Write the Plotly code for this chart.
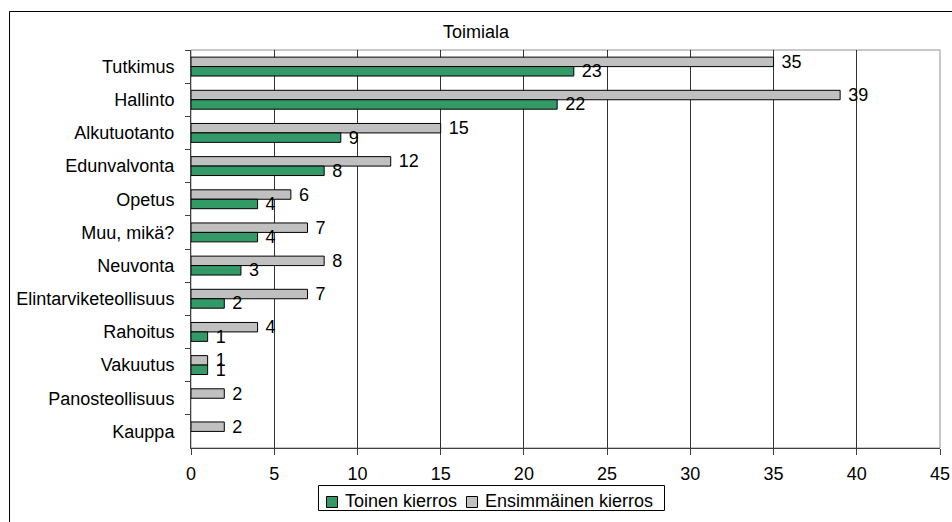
import plotly.graph_objects as go

categories = ["Tutkimus", "Hallinto", "Alkutuotanto", "Edunvalvonta", "Opetus",
              "Muu, mikä?", "Neuvonta", "Elintarviketeollisuus", "Rahoitus",
              "Vakuutus", "Panosteollisuus", "Kauppa"]
ensimmainen = [35, 39, 15, 12, 6, 7, 8, 7, 4, 1, 2, 2]
toinen = [23, 22, 9, 8, 4, 4, 3, 2, 1, 1, None, None]
x_ticks = [0, 5, 10, 15, 20, 25, 30, 35, 40, 45]

FONT = "Liberation Sans, Arial, sans-serif"
FS = 18
NB = "\u00a0"
GREEN = "#339966"
GREY = "#C0C0C0"

W, H = 952, 522
L, R, T, B = 191, 12, 50, 74
pw, ph = W - L - R, H - T - B


def label(v):
    return "" if v is None else NB + str(v)


fig = go.Figure()
fig.add_trace(go.Bar(
    y=categories, x=ensimmainen, orientation="h", name="Ensimmäinen kierros",
    marker=dict(color=GREY, line=dict(color="#000000", width=1)),
    text=[label(v) for v in ensimmainen], textposition="outside", cliponaxis=False,
    constraintext="none", textfont=dict(size=FS, color="#000000", family=FONT),
    showlegend=False,
))
fig.add_trace(go.Bar(
    y=categories, x=toinen, orientation="h", name="Toinen kierros",
    marker=dict(color=GREEN, line=dict(color="#000000", width=1)),
    text=[label(v) for v in toinen], textposition="outside",
    cliponaxis=False, constraintext="none",
    textfont=dict(size=FS, color="#000000", family=FONT),
    showlegend=False,
))


def px_x(px):
    return (px - L) / pw


def px_y(py):
    return (H - B - py) / ph


def prect(x0, y0, x1, y1, color, fill="rgba(0,0,0,0)", layer="above"):
    return dict(type="rect", xref="paper", yref="paper",
                x0=px_x(x0), x1=px_x(x1), y0=px_y(y1), y1=px_y(y0),
                line=dict(color=color, width=1), fillcolor=fill, layer=layer)


# manual legend (entries in the reference's order)
legend_items = [("Toinen kierros", GREEN, 326, 343), ("Ensimmäinen kierros", GREY, 466, 483)]
shapes = [
    prect(0 + L, T, W - R, H - B, "#909090", layer="below"),
    prect(9.5, 11.5, W + 20, H + 20, "#000000", layer="below"),
    prect(318.5, 485.5, 664.5, 510.5, "#000000", fill="white"),
]
annotations = []
for name, col, sx, tx in legend_items:
    shapes.append(prect(sx + 0.5, 496.5, sx + 11.5, 507.5, "#000000", fill=col))
    annotations.append(dict(text=name, xref="paper", yref="paper", x=px_x(tx), y=px_y(501),
                            xanchor="left", yanchor="middle", showarrow=False,
                            font=dict(size=FS, family=FONT, color="#000000")))

fig.update_layout(
    width=W, height=H,
    margin=dict(l=L, r=R, t=T, b=B, autoexpand=False),
    paper_bgcolor="white", plot_bgcolor="white",
    font=dict(family=FONT, size=FS, color="#000000"),
    barmode="group", bargap=0.43, bargroupgap=0,
    title=dict(text="Toimiala", x=0.5, xref="container", xanchor="center",
               y=1 - 32 / H, yref="container", yanchor="middle",
               font=dict(size=FS, family=FONT, color="#000000")),
    xaxis=dict(range=[0, 45], tickvals=x_ticks, ticktext=[str(v) for v in x_ticks],
               showgrid=True, gridcolor="#333333", gridwidth=1, automargin=False,
               zeroline=False, showline=True, linecolor="#404040", linewidth=1,
               ticks="outside", ticklen=6, tickcolor="#404040", ticklabelstandoff=3,
               tickfont=dict(size=FS, family=FONT, color="#000000")),
    yaxis=dict(categoryorder="array", categoryarray=categories, autorange="reversed",
               showgrid=False, zeroline=False, showline=True, linecolor="#404040",
               linewidth=1, ticks="outside", ticklen=5, tickcolor="#404040",
               tickson="boundaries", automargin=False, ticklabelstandoff=12,
               tickfont=dict(size=FS, family=FONT, color="#000000")),
    showlegend=False,
    shapes=shapes,
    annotations=annotations,
)

fig.write_html("out.html")
